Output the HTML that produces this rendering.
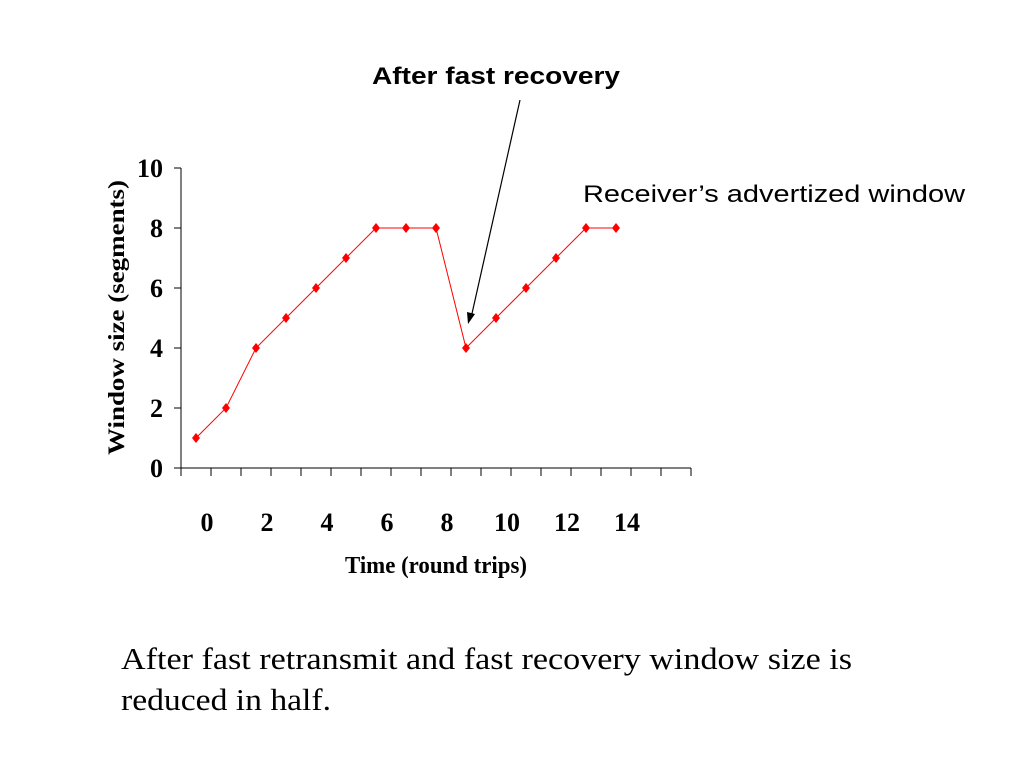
<!DOCTYPE html>
<html><head><meta charset="utf-8"><style>
body{margin:0;background:#fff;width:1024px;height:768px;overflow:hidden}
svg{display:block}
</style></head><body>
<svg width="1024" height="768">
<g id="marks"></g>
<text x="372" y="84" textLength="248" lengthAdjust="spacingAndGlyphs" font-family="Liberation Sans" font-weight="bold" font-size="24">After fast recovery</text>
<line x1="520" y1="100" x2="471" y2="318" stroke="#000" stroke-width="1.2"/>
<polygon points="468,324 467,312 475,314" fill="#000"/>
<text x="583" y="202" textLength="382" lengthAdjust="spacingAndGlyphs" font-family="Liberation Sans" font-size="24">Receiver’s advertized  window</text>
<text x="345" y="573" textLength="182" lengthAdjust="spacingAndGlyphs" font-family="Liberation Serif" font-weight="bold" font-size="24">Time (round trips)</text>
<text transform="translate(124,455) rotate(-90)" textLength="275" lengthAdjust="spacingAndGlyphs" font-family="Liberation Serif" font-weight="bold" font-size="23">Window size (segments)</text>
<text x="121" y="669" textLength="731" lengthAdjust="spacingAndGlyphs" font-family="Liberation Serif" font-size="31">After fast retransmit and fast recovery window size is</text>
<text x="121" y="710" textLength="210" lengthAdjust="spacingAndGlyphs" font-family="Liberation Serif" font-size="31">reduced in half.</text>
</svg>
<script>
const values=[1,2,4,5,6,7,8,8,8,4,5,6,7,8,8];
const yTicks=[0,2,4,6,8,10];
const xTickLabels=["0","2","4","6","8","10","12","14"];
const nCats=17;
const X0=181,X1=691,Y0=468,Y1=168;
const bw=(X1-X0)/nCats;
const xs=i=>X0+bw*(i+0.5);
const ys=v=>Y0-(v/10)*(Y0-Y1);
const g=document.getElementById('marks');
const NS='http://www.w3.org/2000/svg';
function mk(t,a){const e=document.createElementNS(NS,t);for(const k in a)e.setAttribute(k,a[k]);g.appendChild(e);return e;}
let e=mk('line',{x1:X0,y1:Y1,x2:X0,y2:Y0,stroke:'#000','stroke-width':1});


e=mk('line',{x1:X0,y1:Y0,x2:X1,y2:Y0,stroke:'#000','stroke-width':1});


yTicks.forEach(v=>{
 let t=mk('line',{x1:X0-7,y1:ys(v),x2:X0,y2:ys(v),stroke:'#000'});
 
 
 let l=mk('text',{x:X0-18,y:ys(v)+9,'text-anchor':'end','font-family':'Liberation Serif','font-weight':'bold','font-size':26});
 l.textContent=v;
 
 
});
for(let i=0;i<=nCats;i++){
 let t=mk('line',{x1:X0+bw*i,y1:Y0,x2:X0+bw*i,y2:Y0+8,stroke:'#000'});
 
 
}
xTickLabels.forEach((s,k)=>{
 let l=mk('text',{x:xs(k*2)+11,y:Y0+63,'text-anchor':'middle','font-family':'Liberation Serif','font-weight':'bold','font-size':26});
 l.textContent=s;
 
 
});
let p=mk('polyline',{points:values.map((v,i)=>xs(i)+','+ys(v)).join(' '),fill:'none',stroke:'#ff0000','stroke-width':1});


values.forEach((v,i)=>{
 const x=xs(i),y=ys(v);
 let m=mk('polygon',{points:`${x},${y-5} ${x+4},${y} ${x},${y+5} ${x-4},${y}`,fill:'#ff0000'});
 
 
});
</script>
</body></html>
